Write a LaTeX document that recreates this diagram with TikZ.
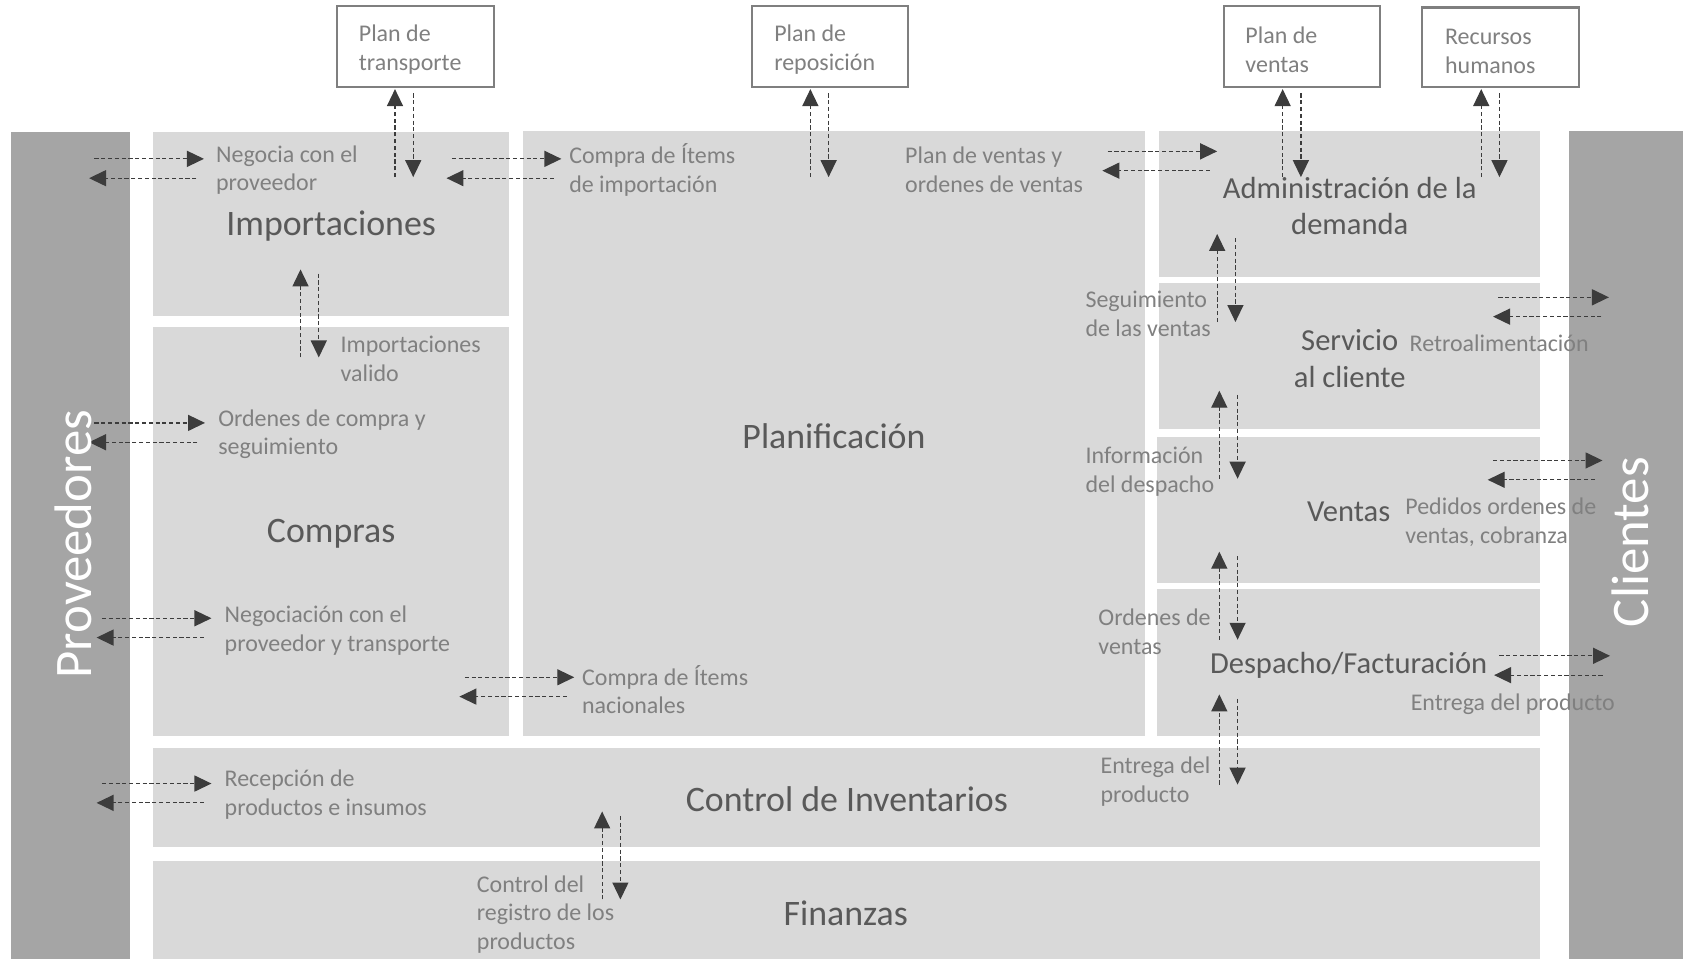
\documentclass[tikz,border=0pt]{standalone}
\usepackage{fontspec}
\setmainfont{Carlito}
\usetikzlibrary{arrows.meta,fit}

\definecolor{barc}{HTML}{A5A5A5}
\definecolor{boxc}{HTML}{D9D9D9}
\definecolor{labc}{HTML}{808080}
\definecolor{titc}{HTML}{595959}
\definecolor{arrc}{HTML}{3C3C3C}
\definecolor{edgec}{HTML}{7F7F7F}

\tikzset{
  bar/.style={fill=barc, draw=none, inner sep=0pt},
  area/.style={fill=boxc, draw=none, inner sep=0pt},
  topbox/.style={fill=white, draw=edgec, line width=1.1pt, inner sep=0pt},
  title/.style={text=titc, font=\fontsize{19}{19.3}\selectfont, align=center, inner sep=0pt, yshift=-0.04cm},
  rtitle/.style={title, font=\fontsize{16.2}{19.3}\selectfont},
  bartext/.style={text=white, font=\fontsize{28}{30}\selectfont, inner sep=0pt, rotate=90},
  lab/.style={text=labc, font=\fontsize{12.7}{15.3}\selectfont, align=left, inner sep=0pt, anchor=west, yshift=-0.04cm},
  flow/.style={draw=arrc, line width=0.65pt, dash pattern=on 2.2pt off 1.4pt,
    -{Triangle[length=9pt,width=8.5pt]}},
}

% pair of horizontal flows: name, left x, right x, y of the upper line
\newcommand\hflows[4]{%
  \coordinate (#1a) at (#2,#4);
  \coordinate (#1b) at (#3,#4);
  \coordinate (#1c) at ({#3-7},{#4+18});
  \coordinate (#1d) at ({#2-5},{#4+18});
  \draw[flow] (#1a) -- (#1b);
  \draw[flow] (#1c) -- (#1d);
}
% pair of vertical flows: name, x of the left line, top y, bottom y
\newcommand\vflows[4]{%
  \coordinate (#1a) at (#2,#4);
  \coordinate (#1b) at (#2,#3);
  \coordinate (#1c) at ({#2+17},{#3+4});
  \coordinate (#1d) at ({#2+17},#4);
  \draw[flow] (#1a) -- (#1b);
  \draw[flow] (#1c) -- (#1d);
}

\begin{document}
\begin{tikzpicture}[x=0.02cm,y=-0.02cm]
\useasboundingbox (0,0) rectangle (1568,893);

% side bars
\node[bar, fit={(10,123) (121,893)}] (prov) {};
\node[bar, fit={(1462,122) (1568,893)}] (cli) {};

% process areas
\node[area, fit={(143,123) (474,294)}] (imp) {};
\node[area, fit={(143,305) (474,686)}] (comp) {};
\node[area, fit={(487,122) (1067,686)}] (plan) {};
\node[area, fit={(1080,122) (1435,258)}] (adm) {};
\node[area, fit={(1080,264) (1435,400)}] (serv) {};
\node[area, fit={(1078,407) (1435,543)}] (vent) {};
\node[area, fit={(1078,549) (1435,686)}] (desp) {};
\node[area, fit={(143,697) (1435,789)}] (inv) {};
\node[area, fit={(143,802) (1435,893)}] (fin) {};

% area titles
\node[title] (timp) at (imp) {Importaciones};
\node[title] (tcomp) at (comp) {Compras};
\node[title] (tplan) at (plan) {Planificación};
\node[rtitle] (tadm) at (adm) {Administración de la\\demanda};
\node[rtitle] (tserv) at (serv) {Servicio\\al cliente};
\node[rtitle] (tvent) at (vent) {Ventas};
\node[rtitle] (tdesp) at (desp) {Despacho/Facturación};
\node[title] (tinv) at (inv) {Control de Inventarios};
\node[title] (tfin) at (788,849) {Finanzas};

% external plans
\node[topbox, fit={(314,6) (460,81)}] (ptra) {};
\node[topbox, fit={(701,6) (846,81)}] (prep) {};
\node[topbox, fit={(1140,6) (1286,81)}] (pven) {};
\node[topbox, fit={(1325,7) (1471,81)}] (rrhh) {};
\node[lab] (lptra) at (334,44.5) {Plan de\\transporte};
\node[lab] (lprep) at (721,44.5) {Plan de\\reposición};
\node[lab] (lpven) at (1160,44.5) {Plan de\\ventas};
\node[lab] (lrrhh) at (1346,45.5) {Recursos\\humanos};

% horizontal exchanges
\hflows{neg}{88}{190}{148}
\hflows{cim}{421}{523}{148}
\hflows{pvo}{1032}{1134}{141}
\hflows{oco}{88}{191}{394}
\hflows{ngt}{95}{197}{576}
\hflows{cna}{433}{535}{631}
\hflows{rec}{95}{197}{730}
\hflows{ret}{1396}{1499}{277}
\hflows{ped}{1391}{1493}{429}
\hflows{ent}{1397}{1500}{611}

% vertical exchanges
\vflows{vtr}{368}{83}{165}
\vflows{vic}{280}{251}{333}
\vflows{vrp}{755}{83}{165}
\vflows{vpv}{1195}{83}{165}
\vflows{vrh}{1380}{83}{165}
\vflows{vas}{1134}{218}{300}
\vflows{vsv}{1136}{364}{446}
\vflows{vvd}{1136}{514}{596}
\vflows{vdc}{1136}{647}{731}
\vflows{vcf}{561}{756}{838}

% flow labels
\node[lab] (l1) at (201,156.5) {Negocia con el\\proveedor};
\node[lab] (l2) at (530,156.5) {Compra de Ítems\\de importación};
\node[lab] (l3) at (843,156.5) {Plan de ventas y\\ordenes de ventas};
\node[lab] (l4) at (317,332.5) {Importaciones\\valido};
\node[lab] (l5) at (203,402.5) {Ordenes de compra y\\seguimiento};
\node[lab] (l6) at (209,585.5) {Negociación con el\\proveedor y transporte};
\node[lab] (l7) at (542,640.5) {Compra de Ítems\\nacionales};
\node[lab] (l8) at (209,738.5) {Recepción de\\productos e insumos};
\node[lab] (l9) at (444,850) {Control del\\registro de los\\productos};
\node[lab] (l10) at (1011,290.5) {Seguimiento\\de las ventas};
\node[lab] (l11) at (1011,437.5) {Información\\del despacho};
\node[lab] (l12) at (1023,586.5) {Ordenes de\\ventas};
\node[lab] (l13) at (1025,726.5) {Entrega del\\producto};
\node[lab] (l14) at (1313,318) {Retroalimentación};
\node[lab] (l15) at (1309,484.5) {Pedidos ordenes de\\ventas, cobranza};
\node[lab] (l16) at (1314,654) {Entrega del producto};

% side bar names
\node[bartext] (tprov) at (68,507) {Proveedores};
\node[bartext] (tcli) at (1519,505) {Clientes};
\end{tikzpicture}
\end{document}
